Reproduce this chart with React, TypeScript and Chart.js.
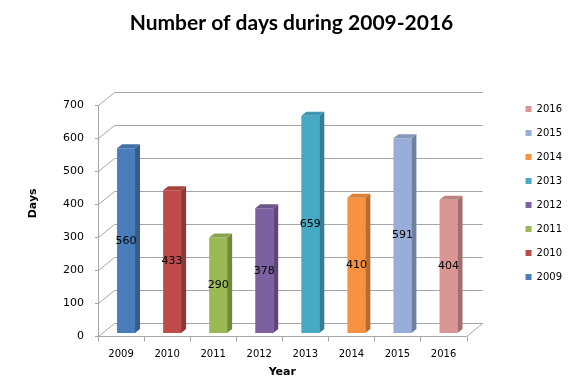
import React, { useEffect, useRef } from "react";
import { Chart, registerables } from "chart.js";

Chart.register(...registerables);

const categories = ["2009", "2010", "2011", "2012", "2013", "2014", "2015", "2016"];
const values = [560, 433, 290, 378, 659, 410, 591, 404];
const yTicks = [0, 100, 200, 300, 400, 500, 600, 700];
const frontColors = ["#4A7EBB", "#BE4B48", "#98B954", "#7D60A0", "#46AAC5", "#F69240", "#98AED9", "#D99694"];
const sideColors = ["#385D8A", "#8C3836", "#71893F", "#5C4776", "#357D91", "#B66D31", "#6F80A0", "#A06F6D"];
const topColors = ["#4270A8", "#A84240", "#86A54A", "#6E548D", "#3F97AF", "#DA8139", "#8798BE", "#BF8280"];

const WALL_DX = 16;
const WALL_DY = -13;
const BAR_DX = 5;
const BAR_DY = -3;
const DEPTH_DX = 5;
const DEPTH_DY = -4;
const GRID = "#a6a6a6";
const FONT = "'DejaVu Sans', Verdana, sans-serif";

const threeD = {
  id: "threeD",
  beforeDatasetsDraw(chart: any) {
    const { ctx, chartArea: a, scales } = chart;
    const y = scales.y;
    const x = scales.x;
    ctx.save();
    ctx.strokeStyle = GRID;
    ctx.lineWidth = 1;
    ctx.beginPath();
    for (const v of yTicks) {
      const py = Math.round(y.getPixelForValue(v)) + 0.5;
      ctx.moveTo(a.left - 3, py);
      ctx.lineTo(a.left + 0.5, py);
      ctx.lineTo(a.left + 0.5 + WALL_DX, py + WALL_DY);
      ctx.lineTo(a.right + WALL_DX, py + WALL_DY);
    }
    const left = Math.round(a.left) + 0.5;
    const bottom = Math.round(y.getPixelForValue(0)) + 0.5;
    ctx.moveTo(left, Math.round(y.getPixelForValue(yTicks[yTicks.length - 1])));
    ctx.lineTo(left, bottom);
    ctx.lineTo(a.right, bottom);
    ctx.lineTo(a.right + WALL_DX, bottom + WALL_DY);
    const w = x.getPixelForValue(1) - x.getPixelForValue(0);
    for (let i = 0; i <= categories.length; i++) {
      const px = Math.round(x.getPixelForValue(0) - w / 2 + i * w) + 0.5;
      ctx.moveTo(px, bottom);
      ctx.lineTo(px, bottom + 5);
    }
    ctx.stroke();
    ctx.restore();
    ctx.save();
    ctx.translate(BAR_DX, BAR_DY);
  },
  afterDatasetsDraw(chart: any) {
    const { ctx } = chart;
    chart.data.datasets.forEach((ds: any, i: number) => {
      const meta = chart.getDatasetMeta(i);
      const el: any = meta.data[i];
      if (!el) return;
      const { x, y, base, width } = el.getProps(["x", "y", "base", "width"], true);
      const l = x - width / 2;
      const r = x + width / 2;
      ctx.fillStyle = sideColors[i];
      ctx.beginPath();
      ctx.moveTo(r, y);
      ctx.lineTo(r + DEPTH_DX, y + DEPTH_DY);
      ctx.lineTo(r + DEPTH_DX, base + DEPTH_DY);
      ctx.lineTo(r, base);
      ctx.closePath();
      ctx.fill();
      ctx.fillStyle = topColors[i];
      ctx.beginPath();
      ctx.moveTo(l, y);
      ctx.lineTo(l + DEPTH_DX, y + DEPTH_DY);
      ctx.lineTo(r + DEPTH_DX, y + DEPTH_DY);
      ctx.lineTo(r, y);
      ctx.closePath();
      ctx.fill();
      ctx.fillStyle = "#000";
      ctx.font = `11px ${FONT}`;
      ctx.textAlign = "center";
      ctx.textBaseline = "middle";
      ctx.fillText(String(values[i]), x, (y + base) / 2);
    });
    ctx.restore();
  },
};

export default function App() {
  const ref = useRef<HTMLCanvasElement>(null);
  useEffect(() => {
    document.body.style.margin = "0";
    const datasets = categories.map((c, i) => ({
      label: c,
      data: categories.map((_, j) => (j === i ? values[i] : null)),
      backgroundColor: frontColors[i],
      borderWidth: 0,
    }));
    const chart = new Chart(ref.current!, {
      type: "bar",
      data: { labels: categories, datasets },
      plugins: [threeD],
      options: {
        animation: false,
        responsive: false,
        devicePixelRatio: 1,
        layout: { padding: { left: 11, right: 4, top: 0, bottom: 0 } },
        datasets: { bar: { skipNull: true, categoryPercentage: 1, barPercentage: 0.39 } } as any,
        plugins: {
          title: {
            display: true,
            text: "Number of days during 2009-2016",
            color: "#000",
            font: { family: "Lato, 'Open Sans', sans-serif", size: 21, weight: "bold" },
            padding: { top: 11, bottom: 9 },
          },
          legend: {
            display: true,
            position: "right",
            align: "start",
            reverse: true,
            title: { display: true, text: " ", font: { size: 10 }, padding: { top: 78, bottom: 0 } },
            labels: {
              boxWidth: 6,
              boxHeight: 6,
              padding: 14,
              color: "#000",
              font: { family: FONT, size: 10 },
            },
          },
          tooltip: { enabled: false },
        },
        scales: {
          x: {
            position: "bottom",
            grid: { display: false, drawTicks: false },
            border: { display: false },
            ticks: { color: "#000", font: { family: FONT, size: 10 }, padding: 12, maxRotation: 0 },
            title: {
              display: true,
              text: "Year",
              color: "#000",
              font: { family: FONT, size: 11, weight: "bold" },
              padding: { top: 0, bottom: 5 },
            },
            afterFit: (s: any) => {
              s.height = 48;
            },
          },
          y: {
            position: "left",
            min: 0,
            max: 700,
            grid: { display: false, drawTicks: false },
            border: { display: false },
            ticks: { stepSize: 100, color: "#000", font: { family: FONT, size: 11 }, padding: 14 },
            title: {
              display: true,
              text: "         Days",
              color: "#000",
              font: { family: FONT, size: 11, weight: "bold" },
              padding: { top: 16, bottom: 0 },
            },
            afterFit: (s: any) => {
              s.width = 87;
            },
          },
          xTop: {
            type: "linear",
            position: "top",
            display: true,
            grid: { display: false, drawTicks: false },
            border: { display: false },
            ticks: { display: false },
            afterFit: (s: any) => {
              s.height = 60;
            },
          },
          yRight: {
            type: "linear",
            position: "right",
            display: true,
            grid: { display: false, drawTicks: false },
            border: { display: false },
            ticks: { display: false },
            afterFit: (s: any) => {
              s.width = 45;
            },
          },
        } as any,
      },
    });
    return () => chart.destroy();
  }, []);
  return (
    <div style={{ width: 576, height: 384, background: "#fff" }}>
      <canvas ref={ref} width={576} height={384} style={{ display: "block" }} />
    </div>
  );
}
